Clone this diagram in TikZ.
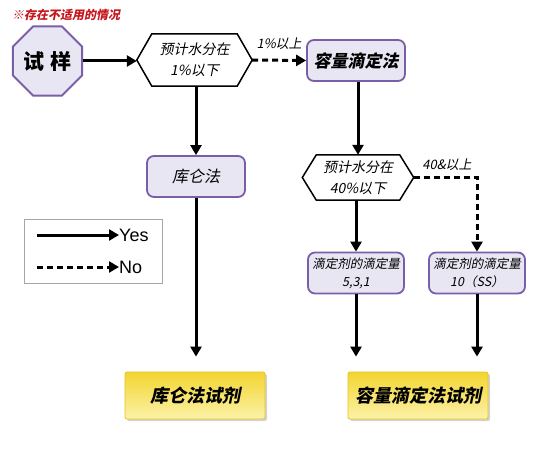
\documentclass[tikz,border=0pt]{standalone}
\usepackage{fontspec}
\newfontfamily\cjk{Noto Sans CJK SC}
\newfontfamily\cjkit[FakeSlant=0.2]{Noto Sans CJK SC}
\newfontfamily\legf{Liberation Sans}
\usetikzlibrary{shapes.geometric,arrows.meta,shadows}
\definecolor{lav}{HTML}{E9E6F3}
\definecolor{purp}{HTML}{7B5EA8}
\definecolor{redt}{HTML}{C8161D}
\definecolor{yel1}{HTML}{F2D530}
\definecolor{yel2}{HTML}{FCF2A8}
\definecolor{yeld}{HTML}{E5C41E}
\begin{document}
\begin{tikzpicture}[x=1pt,y=-1pt,
  tipk/.style={-{Triangle[length=10pt,width=11pt]}},
  yesarrow/.style={line width=3pt,tipk},
  noarrow/.style={line width=3pt,dash pattern=on 6pt off 4pt,tipk},
  lavbox/.style={draw=purp,line width=1.8pt,fill=lav,rounded corners=7pt,minimum width=98pt,minimum height=41pt,inner sep=0pt,align=center},
  smallbox/.style={lavbox,minimum width=96pt,font=\cjkit\fontsize{12.5}{18}\selectfont},
  hexbox/.style={minimum width=#1,minimum height=52pt,inner sep=0pt,align=center,font=\cjkit\fontsize{14}{21}\selectfont},
  hexline/.style={draw=black,line width=1.5pt,fill=white},
  yelbox/.style={draw=yeld,line width=0.8pt,top color=yel1,bottom color=yel2,minimum width=140pt,minimum height=47pt,inner sep=0pt,rounded corners=2pt,font=\cjkit\bfseries\fontsize{18}{20}\selectfont,drop shadow={shadow xshift=2pt,shadow yshift=-2pt,opacity=0.35}},
  lbl/.style={font=\cjkit\fontsize{13}{15}\selectfont,inner sep=0pt},
  legtext/.style={anchor=west,inner sep=0pt,font=\legf\fontsize{18}{20}\selectfont}
]
\useasboundingbox (0,0) rectangle (544,452);

% note
\node[anchor=west,text=redt,font=\cjkit\bfseries\fontsize{12}{14}\selectfont,inner sep=0pt] (note) at (12,15) {※存在不适用的情况};

% sample octagon
\node[regular polygon,regular polygon sides=8,minimum size=75pt,inner sep=0pt,draw=purp,line width=2pt,fill=lav,font=\cjk\bfseries\fontsize{21}{23}\selectfont] (sample) at (47.5,61) {试\hspace{6pt}样};

% hexagon 1
\node[hexbox=115pt] (h1) at (194.5,60) {};
\draw[hexline] (h1.west) -- ([xshift=15pt]h1.north west) -- ([xshift=-15pt]h1.north east) -- (h1.east) -- ([xshift=-15pt]h1.south east) -- ([xshift=15pt]h1.south west) -- cycle;
\node[hexbox=115pt] (h1t) at (194.5,60) {预计水分在\\1\%以下};

% KF volumetric
\node[lavbox,font=\cjkit\bfseries\fontsize{17}{19}\selectfont] (vol) at (356,60.5) {容量滴定法};

% coulometric
\node[lavbox,font=\cjkit\fontsize{16}{18}\selectfont] (cou) at (196,176.5) {库仑法};

% hexagon 2
\node[hexbox=111pt,minimum height=45pt] (h2) at (358,177.5) {};
\draw[hexline] (h2.west) -- ([xshift=14pt]h2.north west) -- ([xshift=-14pt]h2.north east) -- (h2.east) -- ([xshift=-14pt]h2.south east) -- ([xshift=14pt]h2.south west) -- cycle;
\node[hexbox=111pt,minimum height=45pt] (h2t) at (358,177.5) {预计水分在\\40\%以下};

% titrant boxes
\node[smallbox] (t1) at (356,273) {滴定剂的滴定量\\5,3,1};
\node[smallbox] (t2) at (477,273) {滴定剂的滴定量\\10（SS）};

% reagents
\node[yelbox] (r1) at (195,395.5) {库仑法试剂};
\node[yelbox] (r2) at (418,395.5) {容量滴定法试剂};

% connectors
\draw[yesarrow] (sample.east) -- (h1.west |- sample.east);
\draw[noarrow] (h1.east) -- (vol.west) node[lbl,midway,above=9pt] {1\%以上};
\draw[yesarrow] (h1.south -| cou.north) -- (cou.north);
\draw[yesarrow] (vol.south -| h2.north) -- (h2.north);
\draw[yesarrow,shorten >=15pt] (cou.south) -- (r1.north -| cou.south);
\draw[yesarrow] (h2.south -| t1.north) -- (t1.north);
\coordinate (bend) at (h2.east -| t2.north);
\draw[noarrow] (h2.east) -- (bend) -- (t2.north);
\node[lbl,anchor=south] (lbl40) at (447,171) {40\&以上};
\draw[yesarrow,shorten >=15pt] (t1.south) -- (t1.south |- r2.north);
\draw[yesarrow,shorten >=15pt] (t2.south) -- (t2.south |- r2.north);

% legend
\node[draw=gray!70,line width=0.8pt,minimum width=138pt,minimum height=64pt,inner sep=0pt] (leg) at (93,251) {};
\coordinate (ys) at (37,235);
\node[legtext] (yes) at (119,235) {Yes};
\coordinate (ns) at (37,267);
\node[legtext] (no) at (119,267) {No};
\draw[yesarrow] (ys) -- (yes.west);
\draw[noarrow] (ns) -- (no.west);
\end{tikzpicture}
\end{document}
